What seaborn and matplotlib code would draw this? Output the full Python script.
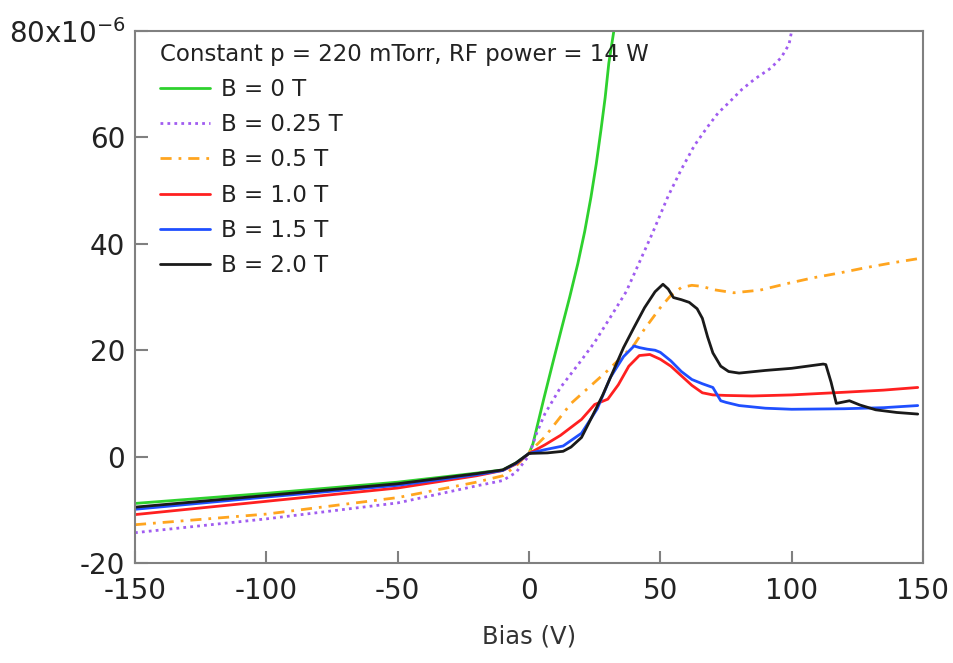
import numpy as np
import pandas as pd
import matplotlib
matplotlib.use("Agg")
import matplotlib.pyplot as plt
import seaborn as sns

# Bias (V) and current (x1e-6), one pair of lists per field
V_0T = [-150, -100, -50, -20, -10, -5, 0, 1.5, 3.5, 5.7, 9, 12.2, 15.5, 18.6, 21.2,
        23.6, 25.6, 27.4, 29, 30.4, 32.3, 34]
I_0T = [-8.8, -6.9, -4.8, -3.1, -2.5, -1.2, 0.6, 2.4, 6.5, 11, 17.5, 23.7, 30, 36.3,
        42.3, 48.8, 55, 61.4, 67.5, 74, 80, 86]

V_025T = [-150, -100, -50, -20, -10, -5, 0, 3, 6, 12, 19, 25, 32, 37, 42, 47, 53, 58,
          63, 68, 72, 76, 81, 86, 92, 96, 99, 100, 101]
I_025T = [-14.3, -11.7, -8.7, -5.5, -4.5, -3.0, 0.2, 4.5, 8, 13, 17.5, 21.5, 27, 31,
          36.5, 42, 49, 54, 58.5, 62, 64.6, 66.5, 69, 71, 73, 75, 77.5, 80, 84]

V_05T = [-150, -100, -50, -20, -10, -5, 0, 6, 16, 30, 40, 44, 50, 54, 58, 62, 66, 70,
         78, 88, 98, 108, 118, 128, 138, 148]
I_05T = [-12.8, -10.8, -7.7, -4.8, -3.6, -1.8, 0.8, 3.7, 10, 16.2, 21, 24, 28, 30.3,
         31.8, 32.2, 32, 31.4, 30.8, 31.3, 32.5, 33.6, 34.5, 35.5, 36.4, 37.2]

V_10T = [-150, -100, -50, -20, -10, -5, 0, 6, 12, 20, 25, 30, 34, 38, 42, 46, 50, 54,
         58, 62, 66, 70, 75, 85, 100, 120, 135, 148]
I_10T = [-10.9, -8.4, -5.9, -3.6, -2.6, -1.4, 0.6, 2.2, 4.0, 7.0, 9.8, 10.8, 13.5, 17,
         19, 19.2, 18.3, 17, 15.2, 13.4, 12, 11.6, 11.5, 11.4, 11.6, 12.1, 12.5, 13]

V_15T = [-150, -100, -50, -20, -10, -5, 0, 6, 13, 20, 26, 31, 36, 40, 42, 45, 48, 50,
         54, 58, 62, 66, 70, 73, 75, 80, 90, 100, 120, 135, 148]
I_15T = [-9.9, -7.6, -5.4, -3.4, -2.6, -1.3, 0.6, 1.3, 2.0, 4.4, 9, 14.9, 18.8, 20.8,
         20.5, 20.2, 20.0, 19.6, 18.0, 16, 14.5, 13.7, 13.0, 10.5, 10.2, 9.6, 9.1, 8.9,
         9.0, 9.2, 9.6]

V_20T = [-150, -100, -50, -20, -10, -5, 0, 7, 13, 16, 20, 24, 28, 32, 36, 40, 44, 48,
         51, 53, 55, 58, 61, 64, 66, 68, 70, 73, 76, 80, 90, 100, 106, 112, 113, 115,
         117, 120, 122, 126, 132, 140, 148]
I_20T = [-9.5, -7.3, -5.1, -3.2, -2.5, -1.2, 0.6, 0.7, 1.0, 1.8, 3.6, 7.5, 11.5, 16,
         20.5, 24.3, 28, 31, 32.4, 31.5, 29.9, 29.5, 29.0, 27.8, 26, 22.5, 19.5, 17,
         16.0, 15.7, 16.2, 16.6, 17.0, 17.4, 17.3, 14, 10, 10.3, 10.5, 9.7, 8.8, 8.3, 8.0]

LABELS = ["B = 0 T", "B = 0.25 T", "B = 0.5 T", "B = 1.0 T", "B = 1.5 T", "B = 2.0 T"]
SERIES = [(V_0T, I_0T), (V_025T, I_025T), (V_05T, I_05T),
          (V_10T, I_10T), (V_15T, I_15T), (V_20T, I_20T)]
COLORS = ["#2ed12e", "#a05cf0", "#ffa51f", "#ff2020", "#1f4fff", "#1a1a1a"]
STYLES = ["-", (0, (1, 1.5)), (0, (4, 2.5, 1, 2.5)), "-", "-", "-"]

Y_TICKS = [-20, 0, 20, 40, 60, 80]
Y_TICK_LABELS = ["-20", "0", "20", "40", "60", r"80x10$^{-6}$"]
X_TICKS = [-150, -100, -50, 0, 50, 100, 150]

sns.set_style("white")
plt.rcParams["font.family"] = ["DejaVu Sans"]

fig = plt.figure(figsize=(9.54, 6.63), dpi=100)
ax = fig.add_axes([0.1415, 0.1508, 0.8260, 0.8024])

for (v, i), lab, col, ls in zip(SERIES, LABELS, COLORS, STYLES):
    df = pd.DataFrame({"Bias": v, "I": i})
    sns.lineplot(data=df, x="Bias", y="I", ax=ax, color=col, linewidth=2.0,
                 linestyle=ls, label=lab, sort=False)

ax.set_xlim(-150, 150)
ax.set_ylim(-20, 80)
ax.set_xticks(X_TICKS)
ax.set_xticklabels([str(t) for t in X_TICKS])
ax.set_yticks(Y_TICKS)
ax.set_yticklabels(Y_TICK_LABELS)
ax.set_xlabel("Bias (V)", fontsize=17.5, color="#333333", labelpad=14)
ax.set_ylabel("")

for sp in ax.spines.values():
    sp.set_visible(True)
    sp.set_color("#808080")
    sp.set_linewidth(1.5)
ax.tick_params(axis="both", direction="in", length=9, width=1.5, color="#808080",
               labelsize=20, labelcolor="#222222", left=True, bottom=True,
               top=False, right=False)
ax.tick_params(axis="x", pad=10)
ax.tick_params(axis="y", pad=7)

leg = ax.legend(title="Constant p = 220 mTorr, RF power = 14 W", loc="upper left",
                bbox_to_anchor=(160 / 954, 1 - 43 / 663), bbox_transform=fig.transFigure,
                frameon=False, fontsize=16.5, title_fontsize=16.5, alignment="left",
                handlelength=2.2, handletextpad=0.45, labelspacing=0.53,
                borderaxespad=0, borderpad=0)
for t in leg.get_texts():
    t.set_color("#222222")
leg.get_title().set_color("#222222")

fig.savefig("out.png", dpi=100)
